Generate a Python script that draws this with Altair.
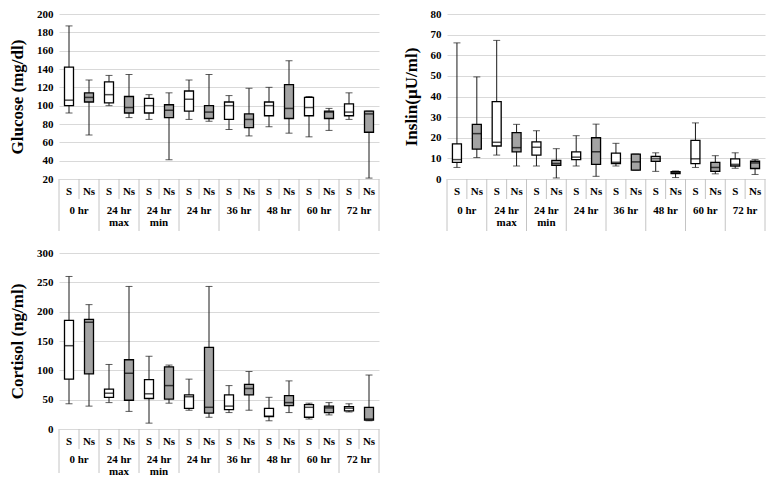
import altair as alt
import pandas as pd

groups = ["0 hr", "24 hr max", "24 hr min", "24 hr", "36 hr", "48 hr", "60 hr", "72 hr"]
group_line1 = ["0 hr", "24 hr", "24 hr", "24 hr", "36 hr", "48 hr", "60 hr", "72 hr"]
group_line2 = ["", "max", "min", "", "", "", "", ""]
subs = ["S", "Ns"]

# Glucose (mg/dl), slots in order 0hr S, 0hr Ns, 24hr max S, ...
g_lo = [92, 68, 100, 87, 85, 41, 85, 83, 74, 67, 77, 70, 66, 73, 85, 21]
g_q1 = [100, 104, 103, 92, 92, 87, 94, 86, 85, 76, 89, 86, 89, 86, 89, 71]
g_med = [106, 109, 112, 98, 100, 95, 107, 93, 100, 85, 100, 97, 98, 93, 93, 91]
g_q3 = [142, 114, 126, 110, 108, 101, 116, 100, 104, 91, 104, 123, 109, 94, 102, 94]
g_hi = [187, 128, 133, 134, 112, 114, 128, 134, 111, 119, 120, 149, 110, 97, 114, 94]

# Insulin (µU/ml)
i_lo = [5.6, 10.4, 11.6, 6.3, 6.3, 0.5, 6.3, 1.3, 6.3, 4.3, 3.7, 0.7, 5.6, 2.5, 5.2, 2.2]
i_q1 = [8.1, 14.5, 16, 13.2, 11.6, 6.6, 9.4, 7.1, 7.5, 4.3, 8.6, 2.6, 7.5, 3.7, 6.3, 5.1]
i_med = [9.4, 22, 17.8, 15.2, 15.4, 7.5, 10.6, 13.2, 8.1, 8.3, 9.8, 3.1, 9.8, 5.6, 7.1, 7.8]
i_q3 = [17, 26.5, 37.5, 22.5, 18, 9, 13.2, 20, 12.5, 12.1, 10.9, 3.6, 18.7, 8.1, 9.8, 8.6]
i_hi = [66, 49.5, 67.2, 26.5, 23.4, 14.7, 21, 26.6, 17.3, 12.1, 12.7, 3.9, 27.2, 11.3, 12.7, 9.4]

# Cortisol (ng/ml)
c_lo = [43, 39, 45, 30, 10, 44, 32, 20, 28, 32, 14, 28, 17, 24, 29, 14]
c_q1 = [85, 94, 54, 49, 52, 51, 35, 27, 33, 58, 21, 40, 20, 28, 31, 15]
c_med = [142, 182, 61, 95, 60, 74, 55, 37, 39, 69, 22, 45, 37, 36, 35.5, 17]
c_q3 = [185, 187, 68, 118, 84, 106, 58, 139, 58, 76, 35, 57, 41.5, 39, 38, 37]
c_hi = [260, 212, 110, 243, 124, 109, 85, 243, 74, 98, 54, 82, 44, 45, 43, 92]

slots = [f"{g}|{s}" for g in groups for s in subs]
slot_sub = [s for g in groups for s in subs]

FONT = "Liberation Serif"
FILL = {"S": "#ffffff", "Ns": "#a3a3a3"}


def box_df(lo, q1, med, q3, hi):
    return pd.DataFrame({"slot": slots, "sub": slot_sub, "lo": lo, "q1": q1,
                         "med": med, "q3": q3, "hi": hi})


lines_df = pd.DataFrame({"slot": slots, "kind": ["long" if s == "S" else "short" for s in slot_sub]})
sub_df = pd.DataFrame({"slot": slots, "sub": slot_sub})
grp_df = pd.DataFrame({"slot": [f"{g}|S" for g in groups], "l1": group_line1, "l2": group_line2})


def panel(df, title, domain, ticks, W, H, tlen, t1, t2):
    xs = alt.Scale(domain=slots, paddingInner=0, paddingOuter=0)
    X = alt.X("slot:N", sort=slots, scale=xs, axis=None)
    ys = alt.Scale(domain=domain, nice=False, zero=False)
    yax = alt.Axis(values=ticks, title=title)
    base = alt.Chart(df)
    whisk = base.mark_rule(color="#1a1a1a", strokeWidth=1).encode(
        x=X, y=alt.Y("lo:Q", scale=ys, axis=yax), y2="hi:Q")
    cap_lo = base.mark_tick(color="#1a1a1a", size=7, thickness=1).encode(
        x=X, y=alt.Y("lo:Q", scale=ys, axis=yax))
    cap_hi = base.mark_tick(color="#1a1a1a", size=7, thickness=1).encode(
        x=X, y=alt.Y("hi:Q", scale=ys, axis=yax))
    box = base.mark_bar(size=9, stroke="#000000", strokeWidth=1.3).encode(
        x=X,
        y=alt.Y("q3:Q", scale=ys, axis=yax),
        y2="q1:Q",
        fill=alt.Fill("sub:N", scale=alt.Scale(domain=list(FILL.keys()), range=list(FILL.values())), legend=None),
    )
    med = base.mark_tick(color="#000000", size=9, thickness=1.5).encode(
        x=X, y=alt.Y("med:Q", scale=ys, axis=yax))

    lc = "#c4c4c4"
    long_l = alt.Chart(lines_df).transform_filter(alt.datum.kind == "long").mark_rule(color=lc, strokeWidth=1).encode(
        x=alt.X("slot:N", sort=slots, scale=xs, axis=None, bandPosition=0),
        y=alt.value(H), y2=alt.value(H + tlen))
    short_l = alt.Chart(lines_df).transform_filter(alt.datum.kind == "short").mark_rule(color=lc, strokeWidth=1).encode(
        x=alt.X("slot:N", sort=slots, scale=xs, axis=None, bandPosition=0),
        y=alt.value(H), y2=alt.value(H + 20))
    right_l = alt.Chart(lines_df.tail(1)).mark_rule(color=lc, strokeWidth=1).encode(
        x=alt.X("slot:N", sort=slots, scale=xs, axis=None, bandPosition=1),
        y=alt.value(H), y2=alt.value(H + tlen))
    sub_t = alt.Chart(sub_df).mark_text(font=FONT, fontWeight="bold", fontSize=11, color="#000", baseline="middle").encode(
        x=alt.X("slot:N", sort=slots, scale=xs, axis=None),
        y=alt.value(H + 13), text="sub:N")
    g1 = alt.Chart(grp_df).mark_text(font=FONT, fontWeight="bold", fontSize=11, color="#000", baseline="middle").encode(
        x=alt.X("slot:N", sort=slots, scale=xs, axis=None, bandPosition=1),
        y=alt.value(H + t1), text="l1:N")
    g2 = alt.Chart(grp_df).mark_text(font=FONT, fontWeight="bold", fontSize=11, color="#000", baseline="middle").encode(
        x=alt.X("slot:N", sort=slots, scale=xs, axis=None, bandPosition=1),
        y=alt.value(H + t2), text="l2:N")
    return alt.layer(whisk, cap_lo, cap_hi, box, med, long_l, short_l, right_l, sub_t, g1, g2).properties(
        width=W, height=H)


glu = panel(box_df(g_lo, g_q1, g_med, g_q3, g_hi), "Glucose (mg/dl)", [20, 200],
            list(range(20, 201, 20)), 320, 165, 52, 32, 44)
ins = panel(box_df(i_lo, i_q1, i_med, i_q3, i_hi), "Inslin(µU/ml)", [0, 80],
            list(range(0, 81, 10)), 318, 165, 52, 32, 44)
cor = panel(box_df(c_lo, c_q1, c_med, c_q3, c_hi), "Cortisol (ng/ml)", [0, 300],
            list(range(0, 301, 50)), 320, 176, 44, 31, 43)

chart = alt.vconcat(
    alt.hconcat(glu, ins, spacing=22),
    cor,
    spacing=15,
).properties(padding=0).configure_view(stroke=None).configure_axis(
    labelFont=FONT, labelFontWeight="bold", labelFontSize=11, labelColor="#000",
    titleFont=FONT, titleFontWeight="bold", titleFontSize=17, titleColor="#000",
    grid=True, gridColor="#d9d9d9", gridWidth=1, domain=False, ticks=False,
    labelPadding=6, titlePadding=10,
)

chart.save("out.html", embed_options={"renderer": "svg", "actions": False})
